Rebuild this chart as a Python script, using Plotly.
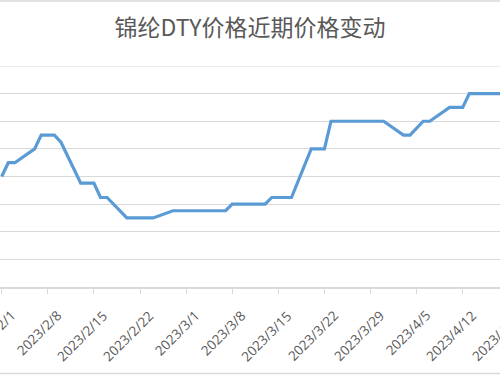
import plotly.graph_objects as go
import pandas as pd

dates = [
    "2023-02-01", "2023-02-02", "2023-02-03", "2023-02-06", "2023-02-07", "2023-02-08",
    "2023-02-09", "2023-02-10", "2023-02-13", "2023-02-14", "2023-02-15", "2023-02-16",
    "2023-02-17", "2023-02-20", "2023-02-21", "2023-02-22", "2023-02-23", "2023-02-24",
    "2023-02-27", "2023-02-28", "2023-03-01", "2023-03-02", "2023-03-03", "2023-03-06",
    "2023-03-07", "2023-03-08", "2023-03-09", "2023-03-10", "2023-03-13", "2023-03-14",
    "2023-03-15", "2023-03-16", "2023-03-17", "2023-03-20", "2023-03-21", "2023-03-22",
    "2023-03-23", "2023-03-24", "2023-03-27", "2023-03-28", "2023-03-29", "2023-03-30",
    "2023-03-31", "2023-04-03", "2023-04-04", "2023-04-06", "2023-04-07", "2023-04-10",
    "2023-04-11", "2023-04-12", "2023-04-13", "2023-04-14", "2023-04-17", "2023-04-18",
    "2023-04-19",
]
prices = [
    18000, 18125, 18125, 18250, 18375, 18375,
    18375, 18310, 17940, 17940, 17940, 17810,
    17810, 17625, 17625, 17625, 17625, 17625,
    17690, 17690, 17690, 17690, 17690, 17690,
    17690, 17750, 17750, 17750, 17750, 17810,
    17810, 17810, 17810, 18250, 18250, 18250,
    18500, 18500, 18500, 18500, 18500, 18500,
    18500, 18375, 18375, 18500, 18500, 18625,
    18625, 18625, 18750, 18750, 18750, 18750,
    18750,
]
tick_dates = ["2023-02-01", "2023-02-08", "2023-02-15", "2023-02-22", "2023-03-01",
              "2023-03-08", "2023-03-15", "2023-03-22", "2023-03-29", "2023-04-05",
              "2023-04-12", "2023-04-19"]
tick_labels = ["2023/2/1", "2023/2/8", "2023/2/15", "2023/2/22", "2023/3/1",
               "2023/3/8", "2023/3/15", "2023/3/22", "2023/3/29", "2023/4/5",
               "2023/4/12", "2023/4/19"]
title = "锦纶DTY价格近期价格变动"

W, H = 500, 375
M_T, M_B = 66, 88
plot_h = H - M_T - M_B

x = pd.to_datetime(dates)
start = pd.Timestamp("2023-02-01")
px_per_day = 6.586
x0 = start - pd.Timedelta(days=1.7 / px_per_day)
x1 = start + pd.Timedelta(days=(W - 1.7) / px_per_day)
y_min, y_max = 17000, 19000

fig = go.Figure()
fig.add_trace(go.Scatter(
    x=x, y=prices, mode="lines",
    line=dict(color="#5b9bd5", width=3.2),
    hoverinfo="skip", showlegend=False,
))

# rotated date labels (Excel style: label end sits slightly right of the tick)
annotations = []
x_last = x1 - pd.Timedelta(hours=1)
for d, lab in zip(pd.to_datetime(tick_dates), tick_labels):
    if d <= x_last:
        ax_x, extra = d, 0.0
    else:
        ax_x, extra = x_last, (d - x_last) / pd.Timedelta(days=1) * px_per_day
    annotations.append(dict(
        x=ax_x, y=0, xref="x", yref="paper", text=lab, showarrow=False,
        textangle=-45, xanchor="right", yanchor="top",
        xshift=extra + 20, yshift=-17,
        font=dict(family="Open Sans", size=13.5, color="#595959"),
    ))

fig.update_layout(
    width=W, height=H,
    margin=dict(l=0, r=0, t=M_T, b=M_B),
    paper_bgcolor="white", plot_bgcolor="white",
    title=dict(text=title, x=0.5, xanchor="center", y=0.925, yanchor="middle",
               font=dict(family="Noto Sans CJK SC", size=23, color="#595959")),
    xaxis=dict(
        range=[x0, x1], tickmode="array",
        tickvals=pd.to_datetime(tick_dates), showticklabels=False,
        ticks="outside", ticklen=5, tickcolor="#d9d9d9",
        showline=True, linecolor="#d9d9d9", linewidth=1.5,
        showgrid=False, automargin=False, zeroline=False,
    ),
    yaxis=dict(
        range=[y_min, y_max], dtick=250, tick0=y_min,
        showgrid=True, gridcolor="#d9d9d9", gridwidth=1.2,
        showticklabels=False, zeroline=False, automargin=False,
    ),
    annotations=annotations,
    shapes=[
        dict(type="line", xref="paper", yref="y", x0=0, x1=1,
             y0=y_max, y1=y_max, line=dict(color="#d9d9d9", width=1.2), layer="below"),
        dict(type="line", xref="paper", yref="paper", x0=-1, x1=2,
             y0=1 + (M_T - 1) / plot_h, y1=1 + (M_T - 1) / plot_h,
             line=dict(color="#d9d9d9", width=1.5)),
        dict(type="line", xref="paper", yref="paper", x0=-1, x1=2,
             y0=-(M_B - 1.5) / plot_h, y1=-(M_B - 1.5) / plot_h,
             line=dict(color="#d9d9d9", width=1.5)),
    ],
)

fig.write_html("out.html")
